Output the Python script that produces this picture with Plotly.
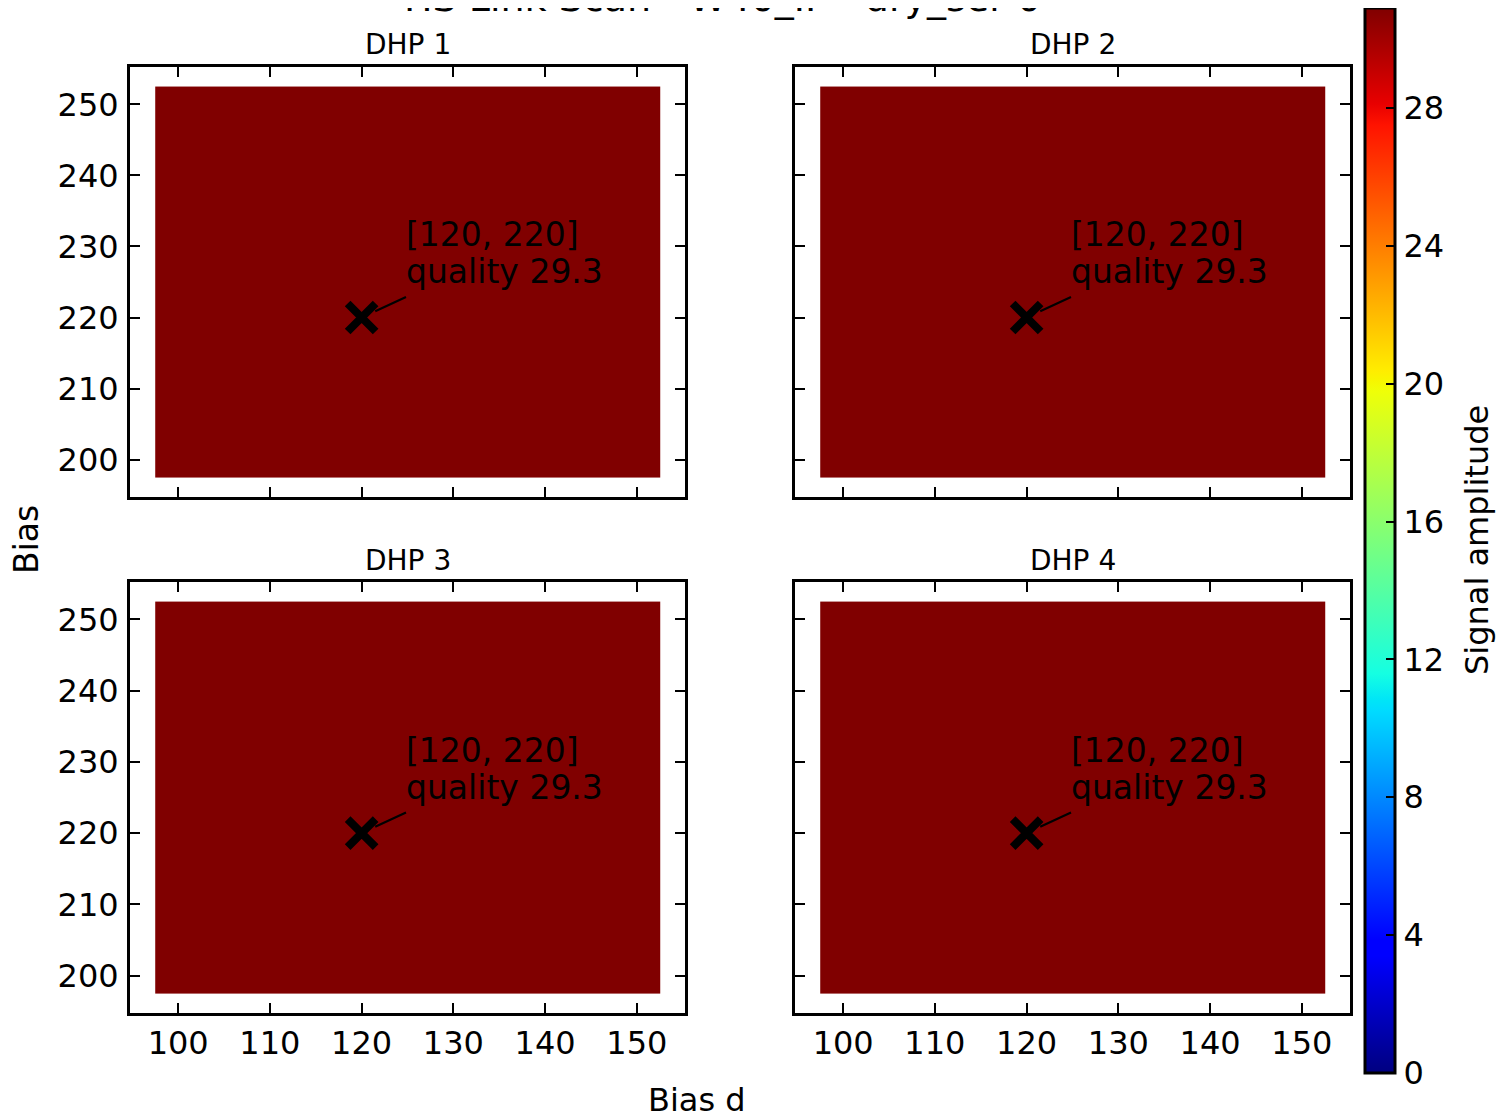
import plotly.graph_objects as go

# ---------------- data ----------------
title_text = "HS Link Scan - W40_IF - dry_ser 0"
dhp_names = ["DHP 1", "DHP 2", "DHP 3", "DHP 4"]
bias_d = [100, 105, 110, 115, 120, 125, 130, 135, 140, 145, 150]
bias = [200, 205, 210, 215, 220, 225, 230, 235, 240, 245, 250]
signal_rows = [
    [30.9, 30.9, 30.9, 30.9, 30.9, 30.9, 30.9, 30.9, 30.9, 30.9, 30.9],
    [30.9, 30.9, 30.9, 30.9, 30.9, 30.9, 30.9, 30.9, 30.9, 30.9, 30.9],
    [30.9, 30.9, 30.9, 30.9, 30.9, 30.9, 30.9, 30.9, 30.9, 30.9, 30.9],
    [30.9, 30.9, 30.9, 30.9, 30.9, 30.9, 30.9, 30.9, 30.9, 30.9, 30.9],
    [30.9, 30.9, 30.9, 30.9, 30.9, 30.9, 30.9, 30.9, 30.9, 30.9, 30.9],
    [30.9, 30.9, 30.9, 30.9, 30.9, 30.9, 30.9, 30.9, 30.9, 30.9, 30.9],
    [30.9, 30.9, 30.9, 30.9, 30.9, 30.9, 30.9, 30.9, 30.9, 30.9, 30.9],
    [30.9, 30.9, 30.9, 30.9, 30.9, 30.9, 30.9, 30.9, 30.9, 30.9, 30.9],
    [30.9, 30.9, 30.9, 30.9, 30.9, 30.9, 30.9, 30.9, 30.9, 30.9, 30.9],
    [30.9, 30.9, 30.9, 30.9, 30.9, 30.9, 30.9, 30.9, 30.9, 30.9, 30.9],
    [30.9, 30.9, 30.9, 30.9, 30.9, 30.9, 30.9, 30.9, 30.9, 30.9, 30.9],
]
dhp_signal = [signal_rows, signal_rows, signal_rows, signal_rows]
best_bias_d = [120, 120, 120, 120]
best_bias = [220, 220, 220, 220]
best_quality = [29.3, 29.3, 29.3, 29.3]
label_bias_d = [125, 125, 125, 125]
label_bias = [225, 225, 225, 225]
x_ticks = [100, 110, 120, 130, 140, 150]
y_ticks = [200, 210, 220, 230, 240, 250]
cbar_ticks = [0, 4, 8, 12, 16, 20, 24, 28]
signal_min = 0
signal_max = 30.9

# ---------------- style ----------------
W, H = 1506, 1117
OFF = 8  # page body margin
FONT = "DejaVu Sans"


def px_x(p):
    return (p - OFF) / W


def px_y(p):
    return 1 - (p - OFF) / H


def jet_colorscale():
    r = [(0, 0), (0.35, 0), (0.66, 1), (0.89, 1), (1, 0.5)]
    g = [(0, 0), (0.125, 0), (0.375, 1), (0.64, 1), (0.91, 0), (1, 0)]
    b = [(0, 0.5), (0.11, 1), (0.34, 1), (0.65, 0), (1, 0)]

    def f(pts, t):
        for (t0, v0), (t1, v1) in zip(pts[:-1], pts[1:]):
            if t0 <= t <= t1:
                return v0 + (v1 - v0) * (t - t0) / (t1 - t0) if t1 > t0 else v1
        return pts[-1][1]

    stops = sorted(set(p[0] for p in r + g + b))
    return [[t, "rgb(%d,%d,%d)" % (round(255 * f(r, t)), round(255 * f(g, t)), round(255 * f(b, t)))]
            for t in stops]


# pixel boxes of the 4 panels: (left, right, top, bottom)
panels = [(130, 685, 67, 497), (795, 1350, 67, 497),
          (130, 685, 582, 1013), (795, 1350, 582, 1013)]

x_range = [94.75, 155.25]
y_range = [194.75, 255.25]

fig = go.Figure()
annotations = []
ANN_SIZE = 33

for i in range(4):
    ax_id = "" if i == 0 else str(i + 1)
    xa, ya = "x" + ax_id, "y" + ax_id
    l, r, t, b = panels[i]
    fig.add_trace(go.Heatmap(
        x=bias_d, y=bias, z=dhp_signal[i], coloraxis="coloraxis",
        xaxis=xa, yaxis=ya, hoverinfo="skip"))
    fig.add_trace(go.Scatter(
        x=[best_bias_d[i]], y=[best_bias[i]], mode="markers", xaxis=xa, yaxis=ya,
        marker=dict(symbol="x-thin", size=28, color="black",
                    line=dict(width=8, color="black")),
        showlegend=False, hoverinfo="skip"))
    axis_common = dict(showline=True, linewidth=3, linecolor="black", mirror="ticks",
                       ticks="inside", ticklen=10, tickwidth=1.5, tickcolor="black",
                       showgrid=False, zeroline=False, automargin=False,
                       tickfont=dict(family=FONT, size=32, color="black"))
    fig.update_layout(**{
        "xaxis" + ax_id: dict(domain=[px_x(l), px_x(r)], range=x_range, tickvals=x_ticks,
                              showticklabels=(i >= 2), anchor=ya, **axis_common),
        "yaxis" + ax_id: dict(domain=[px_y(b), px_y(t)], range=y_range, tickvals=y_ticks,
                              showticklabels=(i % 2 == 0), anchor=xa, ticklabelstandoff=2,
                              **axis_common),
    })
    # panel title
    annotations.append(dict(text=dhp_names[i], x=px_x((l + r) / 2), y=px_y(t - 22),
                            xref="paper", yref="paper", showarrow=False,
                            xanchor="center", yanchor="middle",
                            font=dict(family=FONT, size=28, color="black")))
    # arrow
    annotations.append(dict(text="", x=best_bias_d[i], y=best_bias[i],
                            ax=label_bias_d[i], ay=label_bias[i] - 2.0,
                            xref=xa, yref=ya, axref=xa, ayref=ya,
                            showarrow=True, arrowhead=0, arrowwidth=2.2,
                            arrowcolor="black", standoff=15))
    # label (two lines, baseline of the last line at the label point)
    lines = ["[%d, %d]" % (best_bias_d[i], best_bias[i]), "quality %.1f" % best_quality[i]]
    for k, line in enumerate(lines):
        annotations.append(dict(text=line, x=label_bias_d[i], y=label_bias[i], xref=xa, yref=ya,
                                showarrow=False, xanchor="left", yanchor="bottom", align="left",
                                yshift=-11 + 37 * (len(lines) - 1 - k), xshift=-4,
                                font=dict(family=FONT, size=ANN_SIZE, color="black")))

annotations.append(dict(text=title_text, x=px_x(722), y=px_y(22), xref="paper", yref="paper",
                        showarrow=False, xanchor="center", yanchor="bottom",
                        font=dict(family=FONT, size=38, color="black")))
annotations.append(dict(text="Bias d", x=px_x(697), y=px_y(1100), xref="paper", yref="paper",
                        showarrow=False, xanchor="center", yanchor="middle",
                        font=dict(family=FONT, size=32, color="black")))
annotations.append(dict(text="Bias", x=px_x(26), y=px_y(540), xref="paper", yref="paper",
                        showarrow=False, xanchor="center", yanchor="middle", textangle=-90,
                        font=dict(family=FONT, size=33, color="black")))
annotations.append(dict(text="Signal amplitude", x=px_x(1477), y=px_y(540), xref="paper", yref="paper",
                        showarrow=False, xanchor="center", yanchor="middle", textangle=-90,
                        font=dict(family=FONT, size=32, color="black")))

fig.update_layout(
    width=W, height=H,
    margin=dict(l=0, r=0, t=0, b=0),
    paper_bgcolor="white", plot_bgcolor="white",
    showlegend=False,
    font=dict(family=FONT, color="black"),
    annotations=annotations,
    coloraxis=dict(
        colorscale=jet_colorscale(), cmin=signal_min, cmax=signal_max,
        colorbar=dict(
            x=px_x(1365), xanchor="left", xref="paper", xpad=0,
            y=px_y((8 + 1073) / 2), yanchor="middle", yref="paper", ypad=0,
            len=1065 / H, lenmode="fraction", thickness=30, thicknessmode="pixels",
            outlinewidth=3, outlinecolor="black",
            tickvals=cbar_ticks, ticks="inside", ticklen=10, tickwidth=1.5, tickcolor="black",
            tickfont=dict(family=FONT, size=32, color="black"),
        ),
    ),
)

fig.write_html("out.html")
